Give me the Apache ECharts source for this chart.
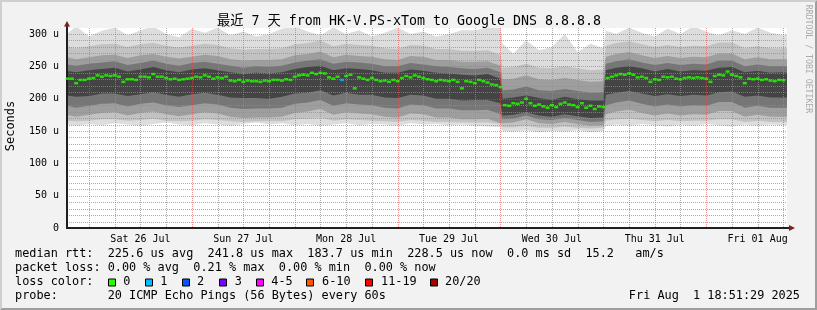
<!DOCTYPE html>
<html><head><meta charset="utf-8">
<script src="https://cdn.jsdelivr.net/npm/echarts@6/dist/echarts.min.js"></script>
<style>html,body{margin:0;padding:0;background:#f2f2f2;}#c{width:817px;height:310px;}</style>
</head><body><div id="c"></div>
<script>
// ---- axis / tick data (hours relative to Sat 26 Jul 00:00) ----
const xMin = -5.142, xMax = 162.858;
const yMin = 0, yMax = 309.3;
const dayLabels = ['Sat 26 Jul','Sun 27 Jul','Mon 28 Jul','Tue 29 Jul','Wed 30 Jul','Thu 31 Jul','Fri 01 Aug'];
const dayLabelHours = [12,36,60,84,108,132,156];
const xMajorGrid = [0,24,48,72,96,120,144];
const xMinorGrid = [6,12,18,30,36,42,54,60,66,78,84,90,102,108,114,126,132,138,150,156,162];
const yMajorGrid = [50,100,150,200,250,300];
const yMinorGrid = [10,20,30,40,60,70,80,90,110,120,130,140,160,170,180,190,210,220,230,240,260,270,280,290];

// ---- median rtt (us), hourly from h = -5 ----
const medianStartHour = -5;
const medianRtt = [
 231,231,224,229,229,
 231,232,236,234,236,235,236,234,226,230,
 230,229,234,234,233,238,234,234,232,230,
 231,229,230,231,232,234,233,236,234,231,
 233,232,234,228,227,229,226,228,227,227,
 226,228,227,229,229,228,230,229,234,236,
 237,236,240,238,240,239,233,231,234,229,
 235,237,216,233,231,229,232,229,227,228,
 226,229,227,232,235,233,236,234,232,230,
 229,227,229,228,227,229,226,216,227,226,
 224,229,227,225,222,221,218,190,189,193,
 192,194,200,193,189,191,188,186,190,187,
 192,194,191,190,187,193,186,189,184,188,
 187,232,234,236,238,237,239,237,233,234,
 232,226,230,229,234,233,234,231,230,232,
 233,232,233,232,231,226,235,237,236,242,
 237,235,233,224,231,230,231,229,230,228,
 227,229,228.5
];
const lossHours = [59];
const lossCounts = [1];

// ---- smoke (ping distribution bands, us) ----
const smokeHours = [-5.2,-3,0,3,6,9,12,15,18,21,24,27,30,33,36,39,42,45,48,51,54,57,60,63,66,69,72,75,78,81,84,87,90,93,96,96.5,99,102,105,108,111,114,117,120,120.6,123,126,129,132,135,138,141,144,147,150,153,156,159,162,163];
const smoke1Hi = [300,312,296,305,310,298,306,312,300,295,308,302,310,298,304,296,300,308,312,304,298,310,300,306,296,302,310,300,304,296,300,306,306,310,312, 285,270,290,275,280,300,272,285,278, 305,300,310,302,296,308,300,312,304,298,306,300,310,302,298,300];
const smoke1Lo = [160,158,161,159,162,160,158,161,163,160,159,162,160,158,161,163,160,162,159,161,158,160,162,159,161,160,158,162,160,161,159,160,158,157,156, 150,149,151,148,150,149,151,148,150, 158,160,158,161,159,157,160,158,161,159,157,160,158,160,159,160];
const smoke2Hi = [281,278,281,284,285,280,284,286,282,279,282,285,283,278,276,277,277,278,284,286,290,281,285,283,282,278,277,283,282,277,277,274,274,275,268, 248,249,254,248,247,250,247,244,245, 282,286,289,284,280,283,280,282,281,287,287,278,281,278,278,278];
const smoke2Lo = [166,165,166,168,168,166,167,169,166,165,166,168,167,165,164,165,165,165,168,169,171,166,168,167,166,165,164,167,166,164,164,163,163,163,161, 156,156,158,155,155,157,155,154,155, 166,168,169,167,165,167,165,166,166,168,168,164,166,164,164,164];
const smoke3Hi = [264,261,264,267,268,263,267,269,265,262,265,268,266,261,259,260,260,261,267,269,273,264,268,266,265,261,260,266,265,260,260,257,257,258,251, 230,231,236,230,229,232,229,226,227, 265,269,272,267,263,266,263,265,264,270,270,261,264,261,261,261];
const smoke3Lo = [175,172,175,178,179,174,178,180,176,173,176,179,177,172,170,171,171,172,178,180,184,175,179,177,176,172,171,177,176,171,171,168,168,169,162, 162,163,168,162,161,164,161,158,159, 176,180,183,178,174,177,174,176,175,181,181,172,175,172,172,172];
const smoke4Hi = [253,251,254,256,258,252,255,259,254,251,255,257,254,251,248,250,249,251,256,259,261,254,257,256,254,250,250,255,253,250,249,247,246,248,241, 213,214,219,213,212,215,212,209,210, 254,258,261,256,252,255,252,254,253,259,259,250,253,250,250,250];
const smoke4Lo = [189,186,189,192,193,188,192,194,190,187,190,193,191,186,184,185,185,186,192,194,198,189,193,191,190,186,185,191,190,185,185,182,182,183,176, 168,169,174,168,167,170,167,164,165, 190,194,197,192,188,191,188,190,189,195,195,186,189,186,186,186];
const smoke5Hi = [243,241,244,246,248,242,245,249,244,241,245,247,244,241,238,240,239,241,246,249,251,244,247,246,244,240,240,245,243,240,239,237,236,238,231, 200,202,205,201,198,203,199,197,197, 244,248,250,247,242,246,242,244,243,248,249,241,243,240,241,240];
const smoke5Lo = [205,203,204,208,208,204,207,210,206,203,207,209,206,202,201,201,200,203,208,209,213,205,209,206,206,202,201,206,205,200,200,197,198,198,193, 174,175,179,174,172,176,173,170,171, 206,209,212,208,204,207,204,206,205,210,211,203,205,202,202,202];

// ---- legend ----
const lossLabels = ['0','1','2','3','4-5','6-10','11-19','20/20'];
const lossColors = ['#26ff00','#00b8ff','#0059ff','#7e00ff','#ff00ff','#ff5500','#ff0000','#a10000'];
const statsLine1 = 'median rtt:  225.6 us avg  241.8 us max  183.7 us min  228.5 us now  0.0 ms sd  15.2   am/s';
const statsLine2 = 'packet loss: 0.00 % avg  0.21 % max  0.00 % min  0.00 % now';
const probeLine = 'probe:       20 ICMP Echo Pings (56 Bytes) every 60s';
const titleText = '最近 7 天 from HK-V.PS-xTom to Google DNS 8.8.8.8';
const stampText = 'Fri Aug  1 18:51:29 2025';

const F = "'DejaVu Sans Mono','Noto Sans CJK SC',monospace";
const MAJ = 'rgba(222,79,79,0.6)';
const MIN = 'rgba(143,143,143,0.75)';

function bandSeries(hi, lo, color) {
  return {
    type: 'custom', coordinateSystem: 'cartesian2d', clip: true, silent: true, z: 1,
    data: [[smokeHours[0], lo[0]]],
    renderItem: function (params, api) {
      const top = smokeHours.map((h, i) => api.coord([h, hi[i]]));
      const bot = smokeHours.map((h, i) => api.coord([h, lo[i]])).reverse();
      return { type: 'polygon', shape: { points: top.concat(bot) }, style: { fill: color, stroke: null } };
    }
  };
}

const gridSeries = {
  type: 'custom', coordinateSystem: 'cartesian2d', clip: true, silent: true, z: 3,
  data: [[0, 0]],
  renderItem: function (params, api) {
    const cs = params.coordSys;
    const kids = [];
    function vline(h, color) {
      const x = Math.round(api.coord([h, 0])[0]) + 0.5;
      kids.push({ type: 'line', shape: { x1: x, y1: cs.y, x2: x, y2: cs.y + cs.height },
        style: { stroke: color, lineWidth: 1, lineDash: [1, 1] } });
    }
    function hline(v, color) {
      const y = Math.round(api.coord([0, v])[1]) + 0.5;
      kids.push({ type: 'line', shape: { x1: cs.x, y1: y, x2: cs.x + cs.width, y2: y },
        style: { stroke: color, lineWidth: 1, lineDash: [1, 1] } });
    }
    yMinorGrid.forEach(v => hline(v, MIN));
    xMinorGrid.forEach(h => vline(h, MIN));
    yMajorGrid.forEach(v => hline(v, MAJ));
    xMajorGrid.forEach(h => vline(h, MAJ));
    return { type: 'group', children: kids };
  }
};

const series = [
  bandSeries(smoke1Hi, smoke1Lo, '#dddddd'),
  bandSeries(smoke2Hi, smoke2Lo, '#c2c2c2'),
  bandSeries(smoke3Hi, smoke3Lo, '#9e9e9e'),
  bandSeries(smoke4Hi, smoke4Lo, '#767676'),
  bandSeries(smoke5Hi, smoke5Lo, '#444444'),
  gridSeries,
  {
    type: 'scatter', z: 5, silent: true, symbol: 'rect', symbolSize: [4, 2.5],
    data: medianRtt.map((v, i) => [medianStartHour + i, v]),
    itemStyle: { color: function (p) {
      const k = lossHours.indexOf(p.data[0]);
      return k < 0 ? lossColors[0] : lossColors[lossCounts[k]];
    } }
  }
];

const G = [];
// 3D border
G.push({type:'polygon', z:50, shape:{points:[[0,310],[0,0],[817,0],[815,2],[2,2],[2,308]]}, style:{fill:'#cfcfcf'}});
G.push({type:'polygon', z:50, shape:{points:[[0,310],[817,310],[817,0],[815,2],[815,308],[2,308]]}, style:{fill:'#9e9e9e'}});
// axis extensions + arrows
G.push({type:'line', z:60, shape:{x1:67,y1:28,x2:67,y2:24}, style:{stroke:'#1f1f1f', lineWidth:2}});
G.push({type:'line', z:60, shape:{x1:787,y1:228,x2:791,y2:228}, style:{stroke:'#1f1f1f', lineWidth:2}});
G.push({type:'polygon', z:61, shape:{points:[[64,26.5],[70,26.5],[67,21]]}, style:{fill:'#801f1f'}});
G.push({type:'polygon', z:61, shape:{points:[[789,225],[789,231],[795,228]]}, style:{fill:'#801f1f'}});
function txt(text, x, y, size, opts) {
  opts = opts || {};
  return {type:'text', z:70, x:x, y:y, rotation: opts.rot || 0,
    style:{text:text, font: size + 'px ' + F, fill: opts.fill || '#000',
      align: opts.align || 'left', textAlign: opts.align || 'left',
      verticalAlign:'middle', textVerticalAlign:'middle'}};
}
G.push(txt(titleText, 409, 21.5, 13.3, {align:'center'}));
G.push(txt('Seconds', 10.5, 126, 12, {align:'center', rot: Math.PI/2}));
G.push(txt('RRDTOOL / TOBI OETIKER', 808, 59, 8.2, {align:'center', rot: -Math.PI/2, fill:'#aaaaaa'}));
G.push(txt(statsLine1, 15, 254.3, 11.85));
G.push(txt(statsLine2, 15, 268.3, 11.85));
G.push(txt('loss color:', 15, 282.3, 11.85));
G.push(txt(probeLine, 15, 296.3, 11.85));
G.push(txt(stampText, 800, 296.3, 11.85, {align:'right'}));
const boxX = [108.5, 145.5, 182.5, 219.5, 256.5, 306.5, 365.5, 430.5];
const boxLabelX = [123.3, 160.3, 197, 234.7, 271.3, 322, 381, 445];
lossLabels.forEach((lab, i) => {
  G.push({type:'rect', z:70, shape:{x:boxX[i], y:279, width:7, height:7}, style:{fill:lossColors[i], stroke:'#000', lineWidth:1}});
  G.push(txt(lab, boxLabelX[i], 282.3, 11.85));
});

const option = {
  animation: false,
  backgroundColor: '#f2f2f2',
  grid: { left: 67, top: 28, width: 720, height: 200, show: true, backgroundColor: '#ffffff', borderWidth: 0, containLabel: false },
  xAxis: {
    type: 'value', min: xMin, max: xMax, z: 4,
    axisLine: { show: true, onZero: false, lineStyle: { color: '#1f1f1f', width: 2 } },
    axisTick: { show: false },
    axisLabel: { customValues: dayLabelHours, formatter: v => dayLabels[dayLabelHours.indexOf(v)] || '',
      color: '#000', fontFamily: F, fontSize: 10, margin: 6 },
    splitLine: { show: false }
  },
  yAxis: {
    type: 'value', min: yMin, max: yMax, interval: 50, z: 4,
    axisLine: { show: true, onZero: false, lineStyle: { color: '#1f1f1f', width: 2 } },
    axisTick: { show: false },
    axisLabel: { formatter: v => (Math.abs(v % 50) < 1e-6 ? (v === 0 ? '0' : Math.round(v) + ' u') : ''),
      color: '#000', fontFamily: F, fontSize: 10, margin: 8 },
    splitLine: { show: false }
  },
  graphic: { elements: G },
  series: series
};
const chart = echarts.init(document.getElementById('c'), null, { renderer: 'canvas', width: 817, height: 310 });
chart.setOption(option);
</script></body></html>
